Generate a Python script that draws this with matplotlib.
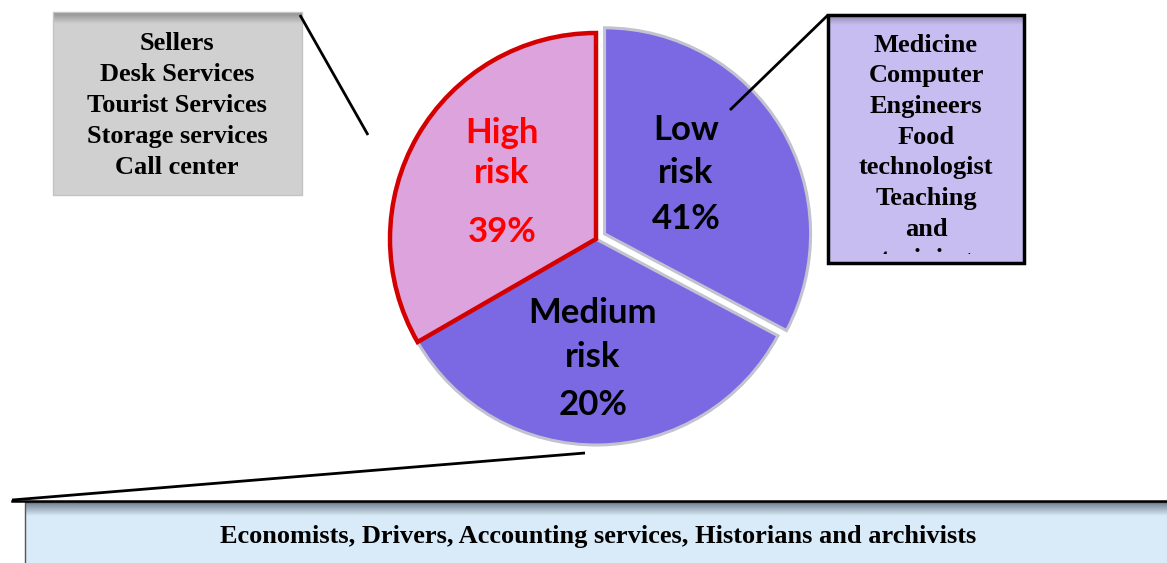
import numpy as np
import matplotlib
matplotlib.use("Agg")
import matplotlib.pyplot as plt
from matplotlib.patches import Rectangle
from matplotlib.transforms import Bbox, TransformedBbox

# data =======================================================================
risk_names = ["Low\nrisk", "Medium\nrisk", "High\nrisk"]
risk_pct = [41, 20, 39]              # printed percentages
slice_deg = [118, 122, 120]          # slice angles as drawn in the picture
slice_colors = ["#7b68e3", "#7b68e3", "#dda3dc"]
text_colors = ["black", "black", "#ff0000"]

high_jobs = ["Sellers", "Desk Services", "Tourist Services", "Storage services", "Call center"]
low_jobs = ["Medicine", "Computer", "Engineers", "Food", "technologist", "Teaching", "and"]
medium_jobs = ["Economists", "Drivers", "Accounting services", "Historians and archivists"]

W, H = 1167, 563
def Y(y):  # image row -> data y
    return H - y

fig = plt.figure(figsize=(W / 100, H / 100), dpi=100)
ax = fig.add_axes([0, 0, 1, 1])

# pie ========================================================================
wedges, _ = ax.pie(slice_deg, colors=slice_colors, startangle=90, counterclock=False,
                   center=(596, Y(239)), radius=206, explode=[10, 0, 0],
                   wedgeprops=dict(edgecolor="#c2c2d0", linewidth=2.2))
wedges[2].set_edgecolor("#d40000")
wedges[2].set_linewidth(3.2)
wedges[2].set_zorder(3)

label_pos = [(686, [130, 173, 219]), (593, [313, 357, 405]), (502, [133, 173, 232])]
for name, pct, col, (x, ys) in zip(risk_names, risk_pct, text_colors, label_pos):
    lines = name.split("\n") + ["%d%%" % pct]
    for line, y in zip(lines, ys):
        ax.text(x, Y(y), line, ha="center", va="center", fontsize=25,
                fontweight="bold", family="Lato", color=col, zorder=5)

# boxes ======================================================================
def gradient_box(x0, y0, x1, y1, top, body, edge, lw, band=12):
    # flat body plus a darker band fading in at the top, border on top of both
    ax.add_patch(Rectangle((x0, Y(y1)), x1 - x0, y1 - y0, facecolor=body,
                           edgecolor="none", zorder=2))
    c_top = np.array(matplotlib.colors.to_rgb(top))
    c_body = np.array(matplotlib.colors.to_rgb(body))
    t = np.linspace(0, 1, 30)[:, None]
    img = (c_top * (1 - t) + c_body * t)[:, None, :]
    ax.imshow(img, extent=(x0, x1, Y(y0 + band), Y(y0)), aspect="auto", zorder=2.5)
    ax.add_patch(Rectangle((x0, Y(y1)), x1 - x0, y1 - y0, facecolor="none",
                           edgecolor=edge, linewidth=lw, zorder=3))

serif = dict(family="Liberation Serif", fontweight="bold", fontsize=19,
             ha="center", va="center", zorder=5)

gradient_box(53, 12, 302, 195, "#8e8e8e", "#d0d0d0", "#c4c4c4", 1)
for i, job in enumerate(high_jobs):
    ax.text(177, Y(44 + 30.8 * i), job, **serif)

gradient_box(828, 15, 1024, 263, "#8f88b0", "#c8bdf0", "black", 2.5, band=10)
for i, job in enumerate(low_jobs):
    ax.text(926, Y(45 + 30.7 * i), job, **serif)
# next line of the list is cut off by the box, only its tops show
cut = ax.text(926, Y(45 + 30.7 * 7), "training", **serif)
cut.set_clip_box(TransformedBbox(Bbox([[828, Y(254)], [1024, Y(15)]]), ax.transData))
cut.set_clip_on(True)

gradient_box(25, 502, 1180, 580, "#6f7f8c", "#d9eaf8", "#555555", 1, band=14)
ax.plot([12, 1167], [Y(501), Y(501)], color="black", lw=1.8, zorder=4)
ax.text(598, Y(537), ", ".join(medium_jobs[:3]) + ", " + medium_jobs[3], **serif)

# leader lines ===============================================================
for (xa, ya), (xb, yb) in [((300, 15), (368, 135)), ((828, 15), (730, 110)),
                           ((12, 500), (585, 453))]:
    ax.plot([xa, xb], [Y(ya), Y(yb)], color="black", lw=2, zorder=4,
            solid_capstyle="butt")

ax.set_xlim(0, W)
ax.set_ylim(0, H)
ax.set_aspect("auto")
ax.axis("off")
fig.savefig("out.png", dpi=100)
